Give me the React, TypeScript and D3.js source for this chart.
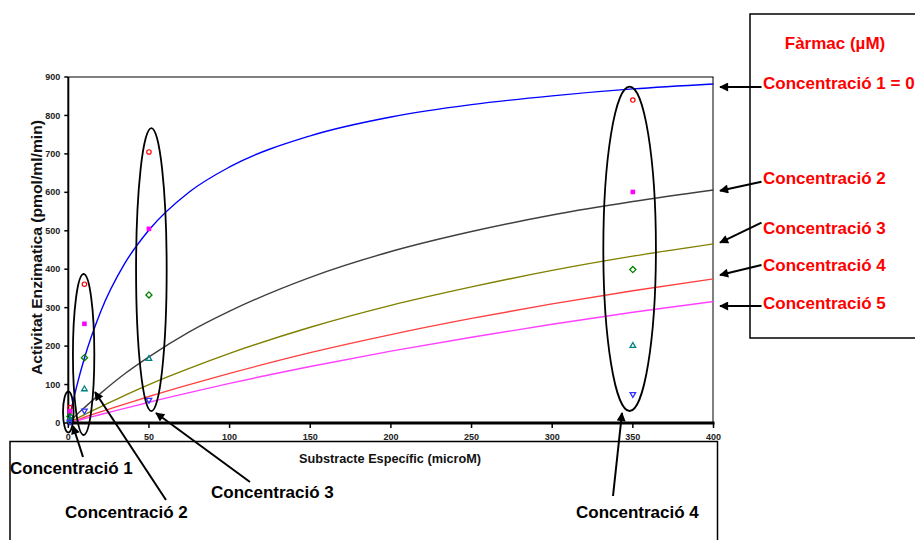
import React from "react";
import * as d3 from "d3";

// ---------- data ----------
const xTicks = [0, 50, 100, 150, 200, 250, 300, 350, 400];
const yTicks = [0, 100, 200, 300, 400, 500, 600, 700, 800, 900];

// fitted-curve samples
const curveX = [0, 2, 5, 10, 20, 35, 50, 75, 100, 150, 200, 250, 300, 350, 400];
const curveBlue = [0, 39, 92, 169, 289, 415, 502, 601, 666, 747, 796, 828, 851, 869, 882];
const curveGray = [0, 8, 21, 40, 77, 128, 172, 237, 291, 379, 446, 498, 541, 576, 606];
const curveOlive = [0, 4, 11, 22, 42, 72, 100, 142, 181, 249, 306, 354, 397, 434, 466];
const curveRed = [0, 3, 7, 15, 29, 49, 69, 100, 129, 183, 230, 272, 310, 344, 375];
const curveMagenta = [0, 2, 6, 11, 22, 38, 54, 79, 103, 147, 187, 223, 257, 288, 316];

// measured points
const pointX = [1, 10, 50, 350];
const ptCircle = [40, 361, 705, 840];
const ptSquare = [30, 258, 505, 601];
const ptDiamond = [17, 170, 333, 399];
const ptTriangle = [9, 88, 167, 201];
const ptInvTriangle = [3, 32, 60, 75];

const rightLabels = ["Concentració 1 = 0", "Concentració 2", "Concentració 3", "Concentració 4", "Concentració 5"];
const bottomLabels = ["Concentració 1", "Concentració 2", "Concentració 3", "Concentració 4"];

// ---------- layout ----------
const W = 915, H = 540;
const X0 = 68.3, X1 = 713.5, Y0 = 423, Y1 = 77;
const FONT = "'Liberation Sans', Arial, Helvetica, sans-serif";

export default function App() {
  const x = d3.scaleLinear().domain([0, 400]).range([X0, X1]);
  const y = d3.scaleLinear().domain([0, 900]).range([Y0, Y1]);

  const curves = [
    { v: curveBlue, c: "#0000ff" },
    { v: curveGray, c: "#404040" },
    { v: curveOlive, c: "#808000" },
    { v: curveRed, c: "#ff4040" },
    { v: curveMagenta, c: "#ff40ff" },
  ];
  const line = d3
    .line<number>()
    .x((_, i) => x(curveX[i]))
    .y((d) => y(d))
    .curve(d3.curveMonotoneX);

  const sym = (type: d3.SymbolType, size: number) => d3.symbol().type(type).size(size)() as string;

  const rightArrows = [
    { ly: 87, ty: 87, label: 83 },
    { ly: 181.7, ty: 190.7, label: 178 },
    { ly: 222.7, ty: 242.7, label: 228 },
    { ly: 265, ty: 275, label: 265 },
    { ly: 306, ty: 306, label: 303 },
  ];

  const bottomPos = [
    { x: 10, y: 468, ax1: 83, ay1: 457, ax2: 73, ay2: 426 },
    { x: 65, y: 512, ax1: 166, ay1: 500, ax2: 95, ay2: 392 },
    { x: 211, y: 492, ax1: 250, ay1: 482, ax2: 156, ay2: 413 },
    { x: 576, y: 512, ax1: 613, ay1: 496, ax2: 622, ay2: 413 },
  ];

  const ellipses = [
    { cx: x(0), cy: 412, rx: 5.3, ry: 20.5 },
    { cx: x(9.5), cy: 354.5, rx: 10.7, ry: 80.5 },
    { cx: x(51.5), cy: 269.7, rx: 15.3, ry: 141.5 },
    { cx: x(348), cy: 248.8, rx: 26.3, ry: 162.2 },
  ];

  return (
    <svg
      width={W}
      height={H}
      style={{ position: "absolute", left: 0, top: 0, background: "#fff" }}
      fontFamily={FONT}
    >
      <defs>
        <marker id="ah" viewBox="0 0 10 10" refX="9" refY="5" markerWidth="11" markerHeight="9" markerUnits="userSpaceOnUse" orient="auto">
          <path d="M0,0 L10,5 L0,10 z" fill="#000" />
        </marker>
      </defs>
      <rect width={W} height={H} fill="#fff" />

      {/* bottom frame box */}
      <path d={`M10,${H + 2} L10,441.5 L717.5,441.5 L717.5,${H + 2}`} fill="none" stroke="#000" strokeWidth={1.5} />
      {/* right legend box */}
      <path d={`M${W + 2},14 L750,14 L750,338 L${W + 2},338`} fill="none" stroke="#000" strokeWidth={1.5} />

      {/* plot frame top & right */}
      <line x1={X0} y1={Y1} x2={X1} y2={Y1} stroke="#000" strokeWidth={1} />
      <line x1={X1 - 0.5} y1={Y1} x2={X1 - 0.5} y2={Y0} stroke="#000" strokeWidth={1} />

      {/* curves */}
      {curves.map((c, i) => (
        <path key={i} d={line(c.v) as string} fill="none" stroke={c.c} strokeWidth={1.4} />
      ))}

      {/* axes */}
      <line x1={X0} y1={Y1} x2={X0} y2={Y0 + 1} stroke="#000" strokeWidth={2} />
      {yTicks.map((t) => (
        <g key={t}>
          <line x1={X0 - 4} x2={X0} y1={y(t)} y2={y(t)} stroke="#000" strokeWidth={1.5} />
          <text x={X0 - 8} y={y(t)} dy="0.35em" textAnchor="end" fontSize={9} fontWeight="bold" fill="#222">
            {t}
          </text>
        </g>
      ))}
      <line x1={X0 - 1} y1={Y0} x2={X1 + 1} y2={Y0} stroke="#000" strokeWidth={3} />
      {xTicks.map((t) => (
        <g key={t}>
          <line x1={x(t)} x2={x(t)} y1={Y0} y2={Y0 + 5} stroke="#000" strokeWidth={1.5} />
          <text x={x(t)} y={437} dy="0.35em" textAnchor="middle" fontSize={9} fontWeight="bold" fill="#222">
            {t}
          </text>
        </g>
      ))}

      {/* axis titles */}
      <text
        transform={`translate(37,247.5) rotate(-90)`}
        textAnchor="middle"
        dy="0.35em"
        fontSize={14}
        fontWeight="bold"
        fill="#111"
        textLength={255}
        lengthAdjust="spacingAndGlyphs"
      >
        Activitat Enzimatica (pmol/ml/min)
      </text>
      <text x={299} y={459} dy="0.35em" fontSize={12.5} fontWeight="bold" fill="#111" textLength={182} lengthAdjust="spacingAndGlyphs">
        Substracte Específic (microM)
      </text>

      {/* points */}
      {pointX.map((px, i) => (
        <g key={i}>
          <circle cx={x(px)} cy={y(ptCircle[i])} r={2.2} fill="none" stroke="#ff0000" strokeWidth={1.2} />
          <rect x={x(px) - 2.3} y={y(ptSquare[i]) - 2.3} width={4.6} height={4.6} fill="#ff00ff" />
          <path transform={`translate(${x(px)},${y(ptDiamond[i])})`} d={sym(d3.symbolDiamond2, 24)} fill="none" stroke="#008000" strokeWidth={1.3} />
          <path transform={`translate(${x(px)},${y(ptTriangle[i])})`} d={sym(d3.symbolTriangle2, 22)} fill="none" stroke="#008080" strokeWidth={1.3} />
          <path transform={`translate(${x(px)},${y(ptInvTriangle[i])}) rotate(180)`} d={sym(d3.symbolTriangle2, 22)} fill="none" stroke="#3333ff" strokeWidth={1.3} />
        </g>
      ))}

      {/* annotation ellipses */}
      {ellipses.map((e, i) => (
        <ellipse key={i} cx={e.cx} cy={e.cy} rx={e.rx} ry={e.ry} fill="none" stroke="#000" strokeWidth={1.8} />
      ))}

      {/* right labels */}
      <text x={835} y={43} dy="0.35em" textAnchor="middle" fontSize={17} fontWeight="bold" fill="#ff0000">
        Fàrmac (µM)
      </text>
      {rightLabels.map((l, i) => (
        <g key={l}>
          <text x={763} y={rightArrows[i].label} dy="0.35em" fontSize={17} fontWeight="bold" fill="#ff0000">
            {l}
          </text>
          <line x1={761.5} y1={rightArrows[i].ly} x2={720} y2={rightArrows[i].ty} stroke="#000" strokeWidth={2} markerEnd="url(#ah)" />
        </g>
      ))}

      {/* bottom labels */}
      {bottomLabels.map((l, i) => (
        <g key={l}>
          <text x={bottomPos[i].x} y={bottomPos[i].y} dy="0.35em" fontSize={17} fontWeight="bold" fill="#000">
            {l}
          </text>
          <line x1={bottomPos[i].ax1} y1={bottomPos[i].ay1} x2={bottomPos[i].ax2} y2={bottomPos[i].ay2} stroke="#000" strokeWidth={2} markerEnd="url(#ah)" />
        </g>
      ))}
    </svg>
  );
}
